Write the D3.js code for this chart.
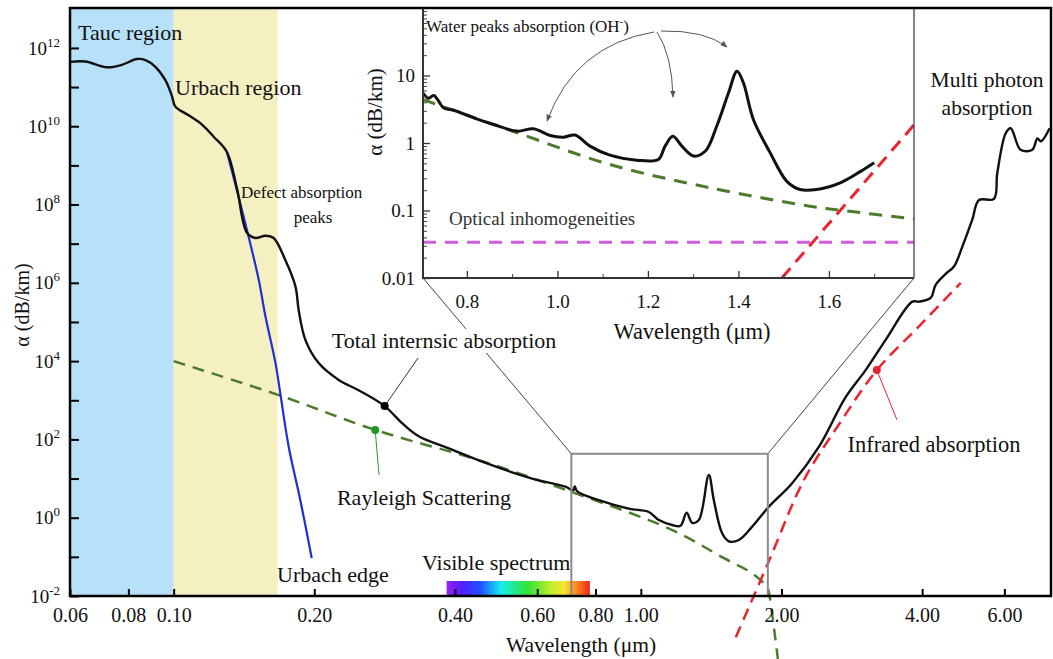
<!DOCTYPE html>
<html>
<head>
<meta charset="utf-8">
<script src="https://cdn.jsdelivr.net/npm/d3@7"></script>
<style>
  body { margin: 0; background: #fff; }
  text { font-family: "Liberation Serif", "DejaVu Serif", serif; fill: #111; }
</style>
</head>
<body>
<div id="chart"></div>
<script>
const width = 1053;
const height = 659;

// ---- data (wavelength in µm, attenuation in dB/km) ----
const taucRegion = [0.06, 0.10];
const urbachRegion = [0.10, 0.167];
const visibleSpectrum = [0.384, 0.778];

const xTickValues = [0.06, 0.08, 0.10, 0.20, 0.40, 0.60, 0.80, 1.00, 2.00, 4.00, 6.00];
const yTickExponents = [-2, -1, 0, 1, 2, 3, 4, 5, 6, 7, 8, 9, 10, 11, 12];

const totalCurve = [
  [0.06, 4.4e11], [0.0647, 4.5e11], [0.072, 3.2e11], [0.0775, 3.7e11], [0.0834, 5.2e11],
  [0.087, 4.9e11], [0.0914, 3.3e11], [0.096, 1.5e11], [0.0992, 5.8e10], [0.1008, 3.2e10],
  [0.1077, 1.9e10], [0.115, 1.1e10], [0.1218, 5.4e9], [0.130, 2.2e9], [0.1366, 2.6e8],
  [0.1435, 1.9e7], [0.1496, 1.4e7], [0.1572, 1.6e7], [0.1637, 1.4e7], [0.1734, 3.8e6],
  [0.1823, 8.0e5], [0.1852, 2.0e5], [0.1914, 3.5e4], [0.2044, 8.9e3], [0.2256, 3.3e3],
  [0.2489, 1.8e3], [0.2829, 7.1e2], [0.3083, 2.6e2], [0.3346, 1.2e2], [0.388, 59],
  [0.4651, 25], [0.5852, 10], [0.69, 6.2], [0.716, 5.0], [0.722, 6.3], [0.73, 4.8],
  [0.813, 2.8], [0.9426, 1.7], [1.04, 1.4], [1.093, 0.87], [1.167, 0.65], [1.216, 0.62],
  [1.253, 1.35], [1.288, 0.74], [1.331, 0.87], [1.398, 12.3], [1.433, 2.8], [1.493, 0.40],
  [1.543, 0.25], [1.621, 0.27], [1.731, 0.59], [1.879, 1.9], [2.108, 7.6], [2.406, 65],
  [2.744, 1.2e3], [3.028, 5.9e3], [3.342, 3.5e4], [3.811, 3.3e5], [3.938, 3.3e5],
  [4.172, 4.1e5], [4.276, 8.9e5], [4.493, 1.7e6], [4.68, 2.6e6], [4.875, 8.3e6],
  [5.122, 4.1e7], [5.294, 1.3e8], [5.70, 1.4e8], [5.793, 6.3e8], [6.039, 6.6e9],
  [6.19, 8.9e9], [6.50, 2.5e9], [6.885, 2.5e9], [7.06, 4.9e9], [7.18, 4.1e9], [7.5, 8.9e9]
];

const urbachEdge = [
  [0.130, 2.2e9], [0.1366, 2.3e8], [0.1447, 1.5e7], [0.1521, 1.2e6], [0.1572, 1.4e5],
  [0.1652, 8.9e3], [0.1693, 1.4e3], [0.1763, 65], [0.1867, 2.8], [0.1975, 0.093]
];

const rayleigh = [
  [0.1, 1.0e4], [0.168, 1.35e3], [0.27, 175], [0.45, 29.5], [0.725, 4.2], [1.165, 0.49],
  [1.51, 0.091], [1.737, 0.037], [1.866, 0.016], [1.886, 0.01], [1.93, 1.35e-3], [1.97, 1.9e-4]
];

const infrared = [
  [1.597, 8.9e-4], [1.88, 0.078], [2.234, 9.2], [2.655, 242], [3.20, 5.9e3], [3.938, 7.7e4], [4.84, 1.0e6]
];

const zoomBox = {w: [0.71, 1.87], a: [0.01, 43]};

// inset
const insetTicks = [0.8, 1.0, 1.2, 1.4, 1.6];
const insetMinorTicks = [0.9, 1.1, 1.3, 1.5, 1.7];
const insetYTicks = [0.01, 0.1, 1, 10];
const insetTotal = [
  [0.703, 5.5], [0.715, 4.6], [0.727, 5.06], [0.749, 3.3], [0.771, 3.06], [0.815, 2.36],
  [0.859, 1.88], [0.911, 1.50], [0.947, 1.62], [0.984, 1.29], [1.013, 1.22], [1.039, 1.31],
  [1.072, 0.90], [1.116, 0.66], [1.175, 0.556], [1.223, 0.57], [1.238, 0.90], [1.255, 1.26],
  [1.275, 0.90], [1.301, 0.64], [1.327, 0.76], [1.352, 1.77], [1.378, 5.5], [1.397, 11.6],
  [1.411, 7.8], [1.433, 2.23], [1.470, 0.72], [1.507, 0.27], [1.536, 0.205], [1.573, 0.205],
  [1.625, 0.257], [1.670, 0.38], [1.700, 0.51]
];
const insetRayleigh = [
  [0.703, 4.4], [0.911, 1.42], [1.116, 0.48], [1.337, 0.217], [1.558, 0.116], [1.625, 0.101], [1.79, 0.075]
];
const insetInhomogeneity = [[0.703, 0.034], [1.788, 0.034]];
const insetInfrared = [[1.496, 0.01], [1.795, 2.1]];

// ---- colours ----
const blackCol = "#111";
const greenCol = "#4d7a2c";
const redCol = "#ea2330";
const blueCol = "#1f2fd6";
const magentaCol = "#d15ddf";
const boxCol = "#8a8a8a";
const serif = "Liberation Serif";

const svg = d3.select("#chart").append("svg")
  .attr("width", width)
  .attr("height", height)
  .style("background", "#fff");

/// Scales ///
const x = d3.scaleLog().domain([0.06, 7.55]).range([70, 1051]);
const y = d3.scaleLog().domain([1e-2, Math.pow(10, 13.02)]).range([596, 8]);

const xi = d3.scaleLinear().domain([0.703, 1.788]).range([423, 914]);
const yi = d3.scaleLog().domain([0.01, 100]).range([278, 8]);

const line = (sx, sy) => d3.line()
  .x(d => sx(d[0]))
  .y(d => sy(d[1]))
  .curve(d3.curveCatmullRom.alpha(0.5));

/// Regions ///
svg.append("rect")
  .attr("x", x(taucRegion[0])).attr("y", y.range()[1])
  .attr("width", x(taucRegion[1]) - x(taucRegion[0]))
  .attr("height", y.range()[0] - y.range()[1])
  .attr("fill", "#b6e1f8");
svg.append("rect")
  .attr("x", x(urbachRegion[0])).attr("y", y.range()[1])
  .attr("width", x(urbachRegion[1]) - x(urbachRegion[0]))
  .attr("height", y.range()[0] - y.range()[1])
  .attr("fill", "#f5f0c2");

/// Visible spectrum bar ///
const grad = svg.append("defs").append("linearGradient").attr("id", "spec");
[[0, "#9a1ef2"], [0.12, "#4a22ff"], [0.24, "#1f55ff"], [0.38, "#18eef0"], [0.56, "#2fe23a"],
 [0.72, "#b8ee2c"], [0.82, "#f7e632"], [0.9, "#ff8a22"], [1, "#ee2a1c"]]
  .forEach(s => grad.append("stop").attr("offset", s[0]).attr("stop-color", s[1]));
svg.append("rect")
  .attr("x", x(visibleSpectrum[0])).attr("y", y.range()[0] - 15)
  .attr("width", x(visibleSpectrum[1]) - x(visibleSpectrum[0]))
  .attr("height", 15)
  .attr("fill", "url(#spec)");

/// Main curves ///
svg.append("path").datum(rayleigh)
  .attr("d", line(x, y)).attr("fill", "none")
  .attr("stroke", greenCol).attr("stroke-width", 2.5).attr("stroke-dasharray", "12 8");
svg.append("path").datum(infrared)
  .attr("d", line(x, y)).attr("fill", "none")
  .attr("stroke", redCol).attr("stroke-width", 2.5).attr("stroke-dasharray", "12 7");
svg.append("path").datum(urbachEdge)
  .attr("d", line(x, y)).attr("fill", "none")
  .attr("stroke", blueCol).attr("stroke-width", 2.2);
svg.append("path").datum(totalCurve)
  .attr("d", line(x, y)).attr("fill", "none")
  .attr("stroke", blackCol).attr("stroke-width", 2.4).attr("stroke-linejoin", "round");

/// Annotation dots + leaders ///
const totalDot = [0.2829, 7.1e2];
const rayDot = [0.27, 175];
const irDot = [3.20, 5.9e3];
svg.append("line")
  .attr("x1", x(totalDot[0])).attr("y1", y(totalDot[1]))
  .attr("x2", 418).attr("y2", 358)
  .attr("stroke", "#333").attr("stroke-width", 1);
svg.append("circle").attr("cx", x(totalDot[0])).attr("cy", y(totalDot[1])).attr("r", 4).attr("fill", "#000");
svg.append("line")
  .attr("x1", x(rayDot[0])).attr("y1", y(rayDot[1]))
  .attr("x2", 379).attr("y2", 475)
  .attr("stroke", "#2a9a2a").attr("stroke-width", 1);
svg.append("circle").attr("cx", x(rayDot[0])).attr("cy", y(rayDot[1])).attr("r", 4).attr("fill", "#1e9a24");
svg.append("line")
  .attr("x1", x(irDot[0])).attr("y1", y(irDot[1]))
  .attr("x2", 897).attr("y2", 420)
  .attr("stroke", redCol).attr("stroke-width", 1);
svg.append("circle").attr("cx", x(irDot[0])).attr("cy", y(irDot[1])).attr("r", 4).attr("fill", redCol);

/// Zoom box + connectors to inset ///
const bx0 = x(zoomBox.w[0]), bx1 = x(zoomBox.w[1]);
const by0 = y(zoomBox.a[1]), by1 = y(zoomBox.a[0]);
svg.append("line")
  .attr("x1", bx0).attr("y1", by0).attr("x2", xi.range()[0]).attr("y2", yi.range()[0])
  .attr("stroke", "#444").attr("stroke-width", 1);
svg.append("line")
  .attr("x1", bx1).attr("y1", by0).attr("x2", xi.range()[1]).attr("y2", yi.range()[0])
  .attr("stroke", "#444").attr("stroke-width", 1);
svg.append("rect")
  .attr("x", bx0).attr("y", by0).attr("width", bx1 - bx0).attr("height", by1 - by0)
  .attr("fill", "none").attr("stroke", boxCol).attr("stroke-width", 2);

/// Inset ///
const inset = svg.append("g");
inset.append("rect")
  .attr("x", xi.range()[0]).attr("y", yi.range()[1])
  .attr("width", xi.range()[1] - xi.range()[0]).attr("height", yi.range()[0] - yi.range()[1])
  .attr("fill", "#fff");
inset.append("clipPath").attr("id", "insetClip").append("rect")
  .attr("x", xi.range()[0]).attr("y", yi.range()[1])
  .attr("width", xi.range()[1] - xi.range()[0]).attr("height", yi.range()[0] - yi.range()[1]);
const insetPlot = inset.append("g").attr("clip-path", "url(#insetClip)");
insetPlot.append("path").datum(insetInhomogeneity)
  .attr("d", d3.line().x(d => xi(d[0])).y(d => yi(d[1]))).attr("fill", "none")
  .attr("stroke", magentaCol).attr("stroke-width", 3).attr("stroke-dasharray", "13 9");
insetPlot.append("path").datum(insetRayleigh)
  .attr("d", line(xi, yi)).attr("fill", "none")
  .attr("stroke", greenCol).attr("stroke-width", 3).attr("stroke-dasharray", "13 9");
insetPlot.append("path").datum(insetInfrared)
  .attr("d", d3.line().x(d => xi(d[0])).y(d => yi(d[1]))).attr("fill", "none")
  .attr("stroke", redCol).attr("stroke-width", 3).attr("stroke-dasharray", "13 8");
insetPlot.append("path").datum(insetTotal)
  .attr("d", line(xi, yi)).attr("fill", "none")
  .attr("stroke", blackCol).attr("stroke-width", 3).attr("stroke-linejoin", "round");

// inset axes
const insetYMinor = [];
insetYTicks.forEach(t => { for (let k = 2; k <= 9; k++) insetYMinor.push(t * k); });
inset.append("g")
  .attr("transform", `translate(${xi.range()[0]},0)`)
  .call(d3.axisLeft(yi).tickValues(insetYMinor).tickSize(-4).tickFormat(""))
  .call(g => g.select(".domain").remove())
  .call(g => g.selectAll(".tick line").attr("stroke", "#444"));
inset.append("g")
  .attr("transform", `translate(${xi.range()[0]},0)`)
  .call(d3.axisLeft(yi).tickValues(insetYTicks).tickSize(-7).tickPadding(8)
    .tickFormat(d => d >= 1 ? d3.format("d")(d) : String(d)))
  .call(g => g.select(".domain").remove())
  .call(g => g.selectAll(".tick line").attr("stroke", "#333").attr("stroke-width", 1.3))
  .call(g => g.selectAll(".tick text").attr("font-size", 19).attr("font-family", serif).attr("fill", "#111"));
inset.append("g")
  .attr("transform", `translate(0,${yi.range()[0]})`)
  .call(d3.axisBottom(xi).tickValues(insetMinorTicks).tickSize(-4).tickFormat(""))
  .call(g => g.select(".domain").remove())
  .call(g => g.selectAll(".tick line").attr("stroke", "#444"));
inset.append("g")
  .attr("transform", `translate(0,${yi.range()[0]})`)
  .call(d3.axisBottom(xi).tickValues(insetTicks).tickSize(-7).tickPadding(17).tickFormat(d3.format(".1f")))
  .call(g => g.select(".domain").remove())
  .call(g => g.selectAll(".tick line").attr("stroke", "#333").attr("stroke-width", 1.3))
  .call(g => g.selectAll(".tick text").attr("font-size", 19).attr("font-family", serif).attr("fill", "#111"));
inset.append("path")
  .attr("d", `M${xi.range()[0]},${yi.range()[1]}V${yi.range()[0]}H${xi.range()[1]}`)
  .attr("fill", "none").attr("stroke", "#333").attr("stroke-width", 2);
inset.append("line")
  .attr("x1", xi.range()[1]).attr("y1", yi.range()[1]).attr("x2", xi.range()[1]).attr("y2", yi.range()[0])
  .attr("stroke", "#333").attr("stroke-width", 1.2);

inset.append("text")
  .attr("x", 692).attr("y", 339).attr("text-anchor", "middle")
  .attr("font-size", 22.5).text("Wavelength (μm)");
inset.append("text")
  .attr("transform", "translate(382,112) rotate(-90)").attr("text-anchor", "middle")
  .attr("font-size", 21).text("α (dB/km)");
const water = inset.append("text").attr("x", 426).attr("y", 32).attr("font-size", 17);
water.append("tspan").text("Water peaks absorption (OH");
water.append("tspan").attr("dy", -7).attr("font-size", 11).text("-");
water.append("tspan").attr("dy", 7).text(")");
inset.append("text")
  .attr("x", 449).attr("y", 225).attr("font-size", 19).style("fill", "#333")
  .text("Optical inhomogeneities");

// curved arrows to the OH peaks
const marker = svg.select("defs").append("marker")
  .attr("id", "arrow").attr("viewBox", "0 0 10 10").attr("refX", 9).attr("refY", 5)
  .attr("markerWidth", 7).attr("markerHeight", 7).attr("orient", "auto-start-reverse");
marker.append("path").attr("d", "M0,1L10,5L0,9z").attr("fill", "#555");
[
  "M654,32 Q575,45 547,121",
  "M657,32 Q672,55 673,97",
  "M661,31 Q705,30 727,47"
].forEach(d => inset.append("path").attr("d", d).attr("fill", "none")
  .attr("stroke", "#555").attr("stroke-width", 1).attr("marker-end", "url(#arrow)"));

/// Main axes ///
const xAxis = g => g
  .attr("transform", `translate(0,${y.range()[0]})`)
  .call(d3.axisBottom(x).tickValues(xTickValues).tickSize(-7).tickPadding(12)
    .tickFormat(d3.format(".2f")))
  .call(g => g.select(".domain").remove())
  .call(g => g.selectAll(".tick line").attr("stroke", "#000").attr("stroke-width", 2))
  .call(g => g.selectAll(".tick text").attr("font-size", 20).attr("font-family", serif).attr("fill", "#111"));
svg.append("g").call(xAxis);

const yAxis = g => g
  .attr("transform", `translate(${x.range()[0]},0)`)
  .call(d3.axisLeft(y).tickValues(yTickExponents.map(e => Math.pow(10, e))).tickSize(-9).tickPadding(10))
  .call(g => g.select(".domain").remove())
  .call(g => g.selectAll(".tick line").attr("stroke", "#000").attr("stroke-width", 2))
  .call(g => g.selectAll(".tick text").each(function(d) {
    const e = Math.round(Math.log10(d));
    const t = d3.select(this).text(null)
      .attr("font-size", 19).attr("font-family", serif).attr("fill", "#111");
    if (e % 2 !== 0) return;
    t.append("tspan").text("10");
    t.append("tspan").attr("dy", -8).attr("font-size", 13).text(e);
  }));
svg.append("g").call(yAxis);

// frame
svg.append("rect")
  .attr("x", x.range()[0]).attr("y", y.range()[1])
  .attr("width", x.range()[1] - x.range()[0]).attr("height", y.range()[0] - y.range()[1])
  .attr("fill", "none").attr("stroke", "#000").attr("stroke-width", 2.5);

svg.append("text")
  .attr("x", 581).attr("y", 652).attr("text-anchor", "middle")
  .attr("font-size", 21.5).text("Wavelength (μm)");
svg.append("text")
  .attr("transform", "translate(29,305) rotate(-90)").attr("text-anchor", "middle")
  .attr("font-size", 20).text("α (dB/km)");

/// Labels ///
const label = (tx, ty, str, size, anchor) => svg.append("text")
  .attr("x", tx).attr("y", ty).attr("font-size", size)
  .attr("text-anchor", anchor || "start").text(str);

label(78, 40, "Tauc region", 22);
label(175, 95, "Urbach region", 22);
label(241, 198, "Defect absorption", 17);
label(313, 223, "peaks", 17, "middle");
svg.append("rect").attr("x", 326).attr("y", 329).attr("width", 238).attr("height", 24).attr("fill", "#fff");
label(444, 348, "Total internsic absorption", 22, "middle");
label(424, 505, "Rayleigh Scattering", 22, "middle");
label(277, 582, "Urbach edge", 22);
label(422, 570, "Visible spectrum", 22);
label(987, 87, "Multi photon", 21.5, "middle");
label(987, 115, "absorption", 21.5, "middle");
label(934, 452, "Infrared absorption", 22.5, "middle");
</script>
</body>
</html>
